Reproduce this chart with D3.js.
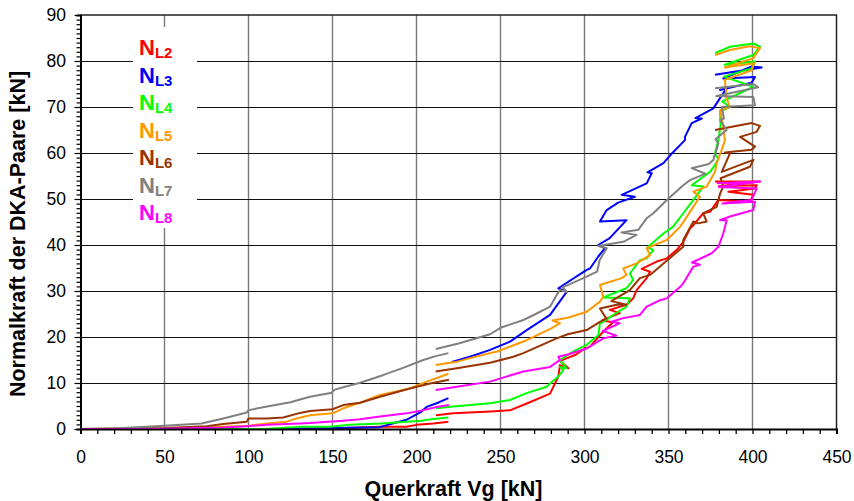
<!DOCTYPE html>
<html>
<head>
<meta charset="utf-8">
<script src="https://cdn.jsdelivr.net/npm/d3@7"></script>
<style>
  body { margin: 0; background: #fff; }
  svg { display: block; }
  text { font-family: Arial, "Liberation Sans", sans-serif; }
</style>
</head>
<body>
<svg id="chart" width="854" height="501"></svg>
<script>
// Axis ticks
const xTicks = [0, 50, 100, 150, 200, 250, 300, 350, 400, 450];
const yTicks = [0, 10, 20, 30, 40, 50, 60, 70, 80, 90];

// Series labels and colours (legend order)
const seriesLabels = ["L2", "L3", "L4", "L5", "L6", "L7", "L8"];
const seriesColors = ["#ff0000", "#0000ff", "#00ff00", "#ff9900", "#993300", "#808080", "#ff00ff"];

// Each series: list of measured segments, points are [Vg kN, N kN]
const nL2 = [
  [[0,0],[100,0],[150,0.1],[179,0.5],[194,0.5],[200,0.9],[210,1.2],[219,1.6]],
  [[211.6,3.0],[222,3.4],[244,3.8],[256,4.1],[266,5.6],[279.5,7.7],[284.4,11.4],[285.4,13.9],[290.4,13.2],[285.5,14.8],[295,16.2],[300.3,17.5],[303.3,17.9],[311.2,21.2],[317,23.2],[310.5,23.6],[321,25.2],[315,25.9],[325,27],[329,28.4],[331,30.2],[337,32.8],[339,34.2],[334,34.8],[343,36.4],[349,37.1],[354.8,38.9],[358.8,40.7],[362.8,43.6],[364.8,44.3],[370.7,46.9],[374.7,47.2],[379.7,49.8],[398.5,49.4],[400.5,50.9],[385.6,51.6],[401.5,52.3],[402.5,53],[380,52.8],[404.5,53.8],[377.7,53.8]]
];
const nL3 = [
  [[0,0],[120,0],[148.5,0.2],[178,0.4],[194,2.0],[203,3.8],[206,4.8],[212,5.6],[219,6.7]],
  [[221,14.6],[231.8,15.7],[243.8,17.2],[255.7,19],[265.6,21.5],[279.5,24.8],[289.4,29.8],[284.4,30.6],[301.3,34.6],[303.3,34.9],[308.2,37.5],[312.2,39.3],[308.2,40],[315,41.5],[325,45.4],[309.2,45.1],[313.2,47.6],[320,49.2],[330,50.5],[322.1,50.9],[337,53.4],[340,55.6],[337.5,55.8],[347,57.8],[352,59.9],[359.8,62.8],[359.8,63.5],[363.8,66.5],[369.8,67.5],[366,67.6],[376.7,69.7],[384.6,74.1],[380.7,73.7],[399.5,75.3],[401.5,76.5],[382.6,76.2],[399.5,78.8],[405.5,78.6],[377.7,77]]
];
const nL4 = [
  [[0,0],[110,0],[130.7,0.5],[148.5,0.5],[160.4,0.9],[179.3,1.2],[194.2,1.6],[203,1.8],[210,2.2],[219,2.5]],
  [[211.6,4.5],[221.9,4.9],[243.8,5.6],[255.7,6.3],[265.6,7.8],[277.5,9.2],[279.5,9.9],[284.4,11.4],[287.4,12.8],[285.4,13.5],[289.4,13.2],[285.4,15],[293,16.8],[301.3,18.3],[308.2,20.4],[309.2,23],[311.2,23.3],[318,25],[325,26.6],[327,28.4],[311.2,28.6],[325,30.6],[329,32.4],[327,33.8],[333,36.7],[337,37.1],[341,38.9],[337.5,39.5],[347,42.5],[352.8,44],[358.8,46.9],[364.8,49.8],[370.7,52.7],[363.8,53],[374.7,55.9],[377.7,57.4],[379.7,58.8],[377.5,59.8],[379.7,62.8],[381,66],[380.7,69],[386.6,70],[382,71.2],[400.5,74.4],[383,76.6],[399.5,78.4],[401.5,79.9],[383.5,79.2],[400.5,81.3],[404.5,83.1],[400.5,83.8],[386.6,83.1],[377.7,81.7]]
];
const nL5 = [
  [[0,0],[50,0.1],[85,0.5],[100,0.7],[111,1.2],[122.7,1.6],[128.7,2.3],[136.6,3.0],[150,3.4],[156.4,4.5],[166.4,5.7],[178.3,7.4],[196,8.8],[206,10.3],[213,11.2],[219,12]],
  [[211.4,13.9],[224,14.6],[231.8,15.4],[243.8,16.5],[247.7,16.8],[265.6,19.3],[280,21.8],[285.4,23],[281,23.6],[290,24.2],[301.3,25.5],[309.2,27.7],[311.2,28.8],[309.2,31.3],[322.1,32.8],[325,33.5],[323.1,34.9],[331,36],[339,37.8],[337,39.3],[349,41.1],[357,44],[362.8,47.2],[368.7,50.5],[364.8,51.6],[372.7,52.7],[377.7,55.9],[378.7,57.8],[381.7,60.7],[383.6,62.8],[382.5,66],[380.7,69.3],[386.6,70],[384.5,72],[383.6,75.9],[399.5,78],[401,79.5],[383.5,78.6],[400.5,80.6],[404.5,82.8],[398,83.2],[386.6,82.4],[377.7,81.3]]
];
const nL6 = [
  [[0,0],[50,0.2],[75,0.6],[85,1.1],[99,1.6],[100,2.3],[111,2.3],[120.7,2.5],[130.7,3.5],[136.6,3.9],[150,4.3],[156.4,5.2],[166.4,5.7],[178.3,7.0],[196,8.8],[208.1,9.9],[219.3,10.7]],
  [[211.4,12.5],[224,13.2],[243.8,14.4],[257.6,15.7],[263.6,16.5],[283.4,19.7],[290,20.6],[301.3,21.5],[309.2,23.3],[313,24],[309.2,26.2],[319.2,27],[325,27],[316,27.8],[327,30.2],[333,32.8],[339,33.5],[347,36],[358.8,39.6],[358.8,41.1],[364.8,45.1],[367.7,44.7],[372.7,45.1],[370.7,46.9],[378.7,48.3],[380.7,51.2],[382.6,52.7],[381,54.5],[398.5,57],[400.5,58.5],[381.7,55.9],[386.6,59.9],[383.6,60.1],[399.5,60.7],[401.5,61.4],[392.6,63.5],[402.5,64.6],[404.5,65.9],[399.5,66.5],[377.7,65]]
];
const nL7 = [
  [[0,0],[20,0.1],[50,0.7],[72,1.2],[85,2.3],[99,3.6],[100,4.1],[111,4.9],[125,5.8],[130.7,6.4],[136.6,7.0],[149.6,7.9],[151,8.5],[157.4,9.2],[166,10],[180,11.7],[192,13.3],[204,15],[212,15.9],[219,16.5]],
  [[211.5,17.4],[225,18.6],[243.8,20.6],[250,22],[263.6,23.7],[271,25],[279.5,26.6],[284,29.5],[285.4,30.2],[289.5,29.8],[287,30.8],[299.3,32.8],[307.5,34.2],[309,36.7],[313.2,39.3],[308.2,39.8],[323.1,40.7],[331,42.2],[322.1,42.7],[332,43.3],[337,45.8],[341,46.9],[349,49.8],[358.8,53],[362.8,54.1],[372,55.5],[363.8,56.7],[374,57.6],[376.7,58.5],[379.7,62.1],[378,63],[384.6,65],[380.7,67.2],[383,67.5],[381.7,70],[401.5,70.4],[400.5,72.2],[378.5,72.4],[403.4,74.3],[400.5,75],[377.7,74.1]]
];
const nL8 = [
  [[0,0],[40,0],[65,0.15],[85,0.3],[99,0.6],[111,0.9],[130.7,1.2],[136.6,1.3],[156.4,1.8],[166.4,2.1],[178.3,2.7],[194.2,3.4],[204,4.1],[212,4.8],[219.3,5.2]],
  [[211.4,8.5],[224,9.2],[243.8,10.3],[263.6,12.5],[279.5,13.5],[285.4,15],[284.4,15.7],[290,16.2],[301.3,17.5],[311.2,19.7],[319,20.3],[311,21.3],[321,23],[316,23.3],[323.1,24.1],[333,24.8],[337,26.6],[345,28],[349,28.4],[357,30.9],[358.8,31.7],[364.8,35.3],[368.7,35.7],[364,36.2],[375.7,38.2],[379.7,39.6],[382.6,42.5],[384.6,45.4],[380.7,45.4],[386.6,46.2],[400.5,47.6],[401.5,49.4],[382.1,49],[399.5,49.8],[402.5,52.3],[380,52.6],[404.5,53.8],[378.7,53.4]]
];
const seriesData = [nL2, nL3, nL4, nL5, nL6, nL7, nL8];

const svg = d3.select("#chart");
const plot = { left: 80.5, right: 836.5, top: 15, bottom: 429 };

const x = d3.scaleLinear().domain([0, 450]).range([plot.left, plot.right]);
const y = d3.scaleLinear().domain([0, 90]).range([plot.bottom, plot.top]);

// Grid: vertical grey, horizontal dark
const grid = svg.append("g");
grid.selectAll("line.v").data(xTicks.slice(1, -1)).join("line")
  .attr("x1", d => x(d)).attr("x2", d => x(d))
  .attr("y1", plot.top).attr("y2", plot.bottom)
  .attr("stroke", "#7a7a7a").attr("stroke-width", 1.4);
grid.selectAll("line.h").data(yTicks.slice(1, -1)).join("line")
  .attr("x1", plot.left).attr("x2", plot.right)
  .attr("y1", d => Math.round(y(d)) + 0.5).attr("y2", d => Math.round(y(d)) + 0.5)
  .attr("stroke", "#111").attr("stroke-width", 1.1);

// Frame (top and right)
svg.append("path")
  .attr("d", `M${plot.left},${plot.top}H${plot.right}V${plot.bottom}`)
  .attr("fill", "none").attr("stroke", "#222").attr("stroke-width", 1.5);

// Legend backdrop
svg.append("rect").attr("x", 133).attr("y", 27).attr("width", 64).attr("height", 201).attr("fill", "#fff");

// Series
const line = d3.line().x(d => x(d[0])).y(d => y(d[1]));
const seriesG = svg.append("g");
seriesData.forEach((segs, i) => {
  seriesG.append("g").selectAll("path").data(segs).join("path")
    .attr("d", line)
    .attr("fill", "none")
    .attr("stroke", seriesColors[i])
    .attr("stroke-width", 2)
    .attr("stroke-linejoin", "round");
});

// Axes
const xAxis = d3.axisBottom(x).tickValues(d3.range(0, 451, 10)).tickSize(5)
  .tickFormat(d => xTicks.includes(d) ? d : "");
const gx = svg.append("g").attr("transform", `translate(0,${plot.bottom})`).call(xAxis);
gx.select(".domain").attr("stroke", "#000").attr("stroke-width", 2);
gx.selectAll(".tick line").attr("stroke", "#000").attr("stroke-width", 1.3);
gx.selectAll(".tick text").attr("font-size", 17.5).attr("fill", "#000").attr("y", 34).attr("dy", 0)
  .attr("font-family", "Arial, 'Liberation Sans', sans-serif");

const yAxis = d3.axisLeft(y).tickValues(d3.range(0, 91, 1)).tickSize(4)
  .tickFormat(d => yTicks.includes(d) ? d : "");
const gy = svg.append("g").attr("transform", `translate(${plot.left},0)`).call(yAxis);
gy.select(".domain").attr("stroke", "#000").attr("stroke-width", 2);
gy.selectAll(".tick line").attr("stroke", "#000").attr("stroke-width", 1.2)
  .attr("x2", d => yTicks.includes(d) ? -6 : -4);
gy.selectAll(".tick text").attr("font-size", 17.5).attr("fill", "#000").attr("x", -14.5)
  .attr("font-family", "Arial, 'Liberation Sans', sans-serif");

// Axis titles
svg.append("text").attr("x", 453.5).attr("y", 496).attr("text-anchor", "middle")
  .attr("font-size", 21.5).attr("font-weight", "bold").text("Querkraft Vg [kN]");
svg.append("text").attr("transform", "translate(24.5,234) rotate(-90)").attr("text-anchor", "middle")
  .attr("font-size", 21.5).attr("font-weight", "bold").text("Normalkraft der DKA-Paare [kN]");

// Legend
const legend = svg.append("g");
seriesLabels.forEach((lab, i) => {
  const t = legend.append("text").attr("x", 139).attr("y", 55 + 27.5 * i)
    .attr("font-weight", "bold").attr("fill", seriesColors[i]);
  t.append("tspan").attr("font-size", 22).text("N");
  t.append("tspan").attr("font-size", 15).attr("dy", 3).text(lab);
});
</script>
</body>
</html>
